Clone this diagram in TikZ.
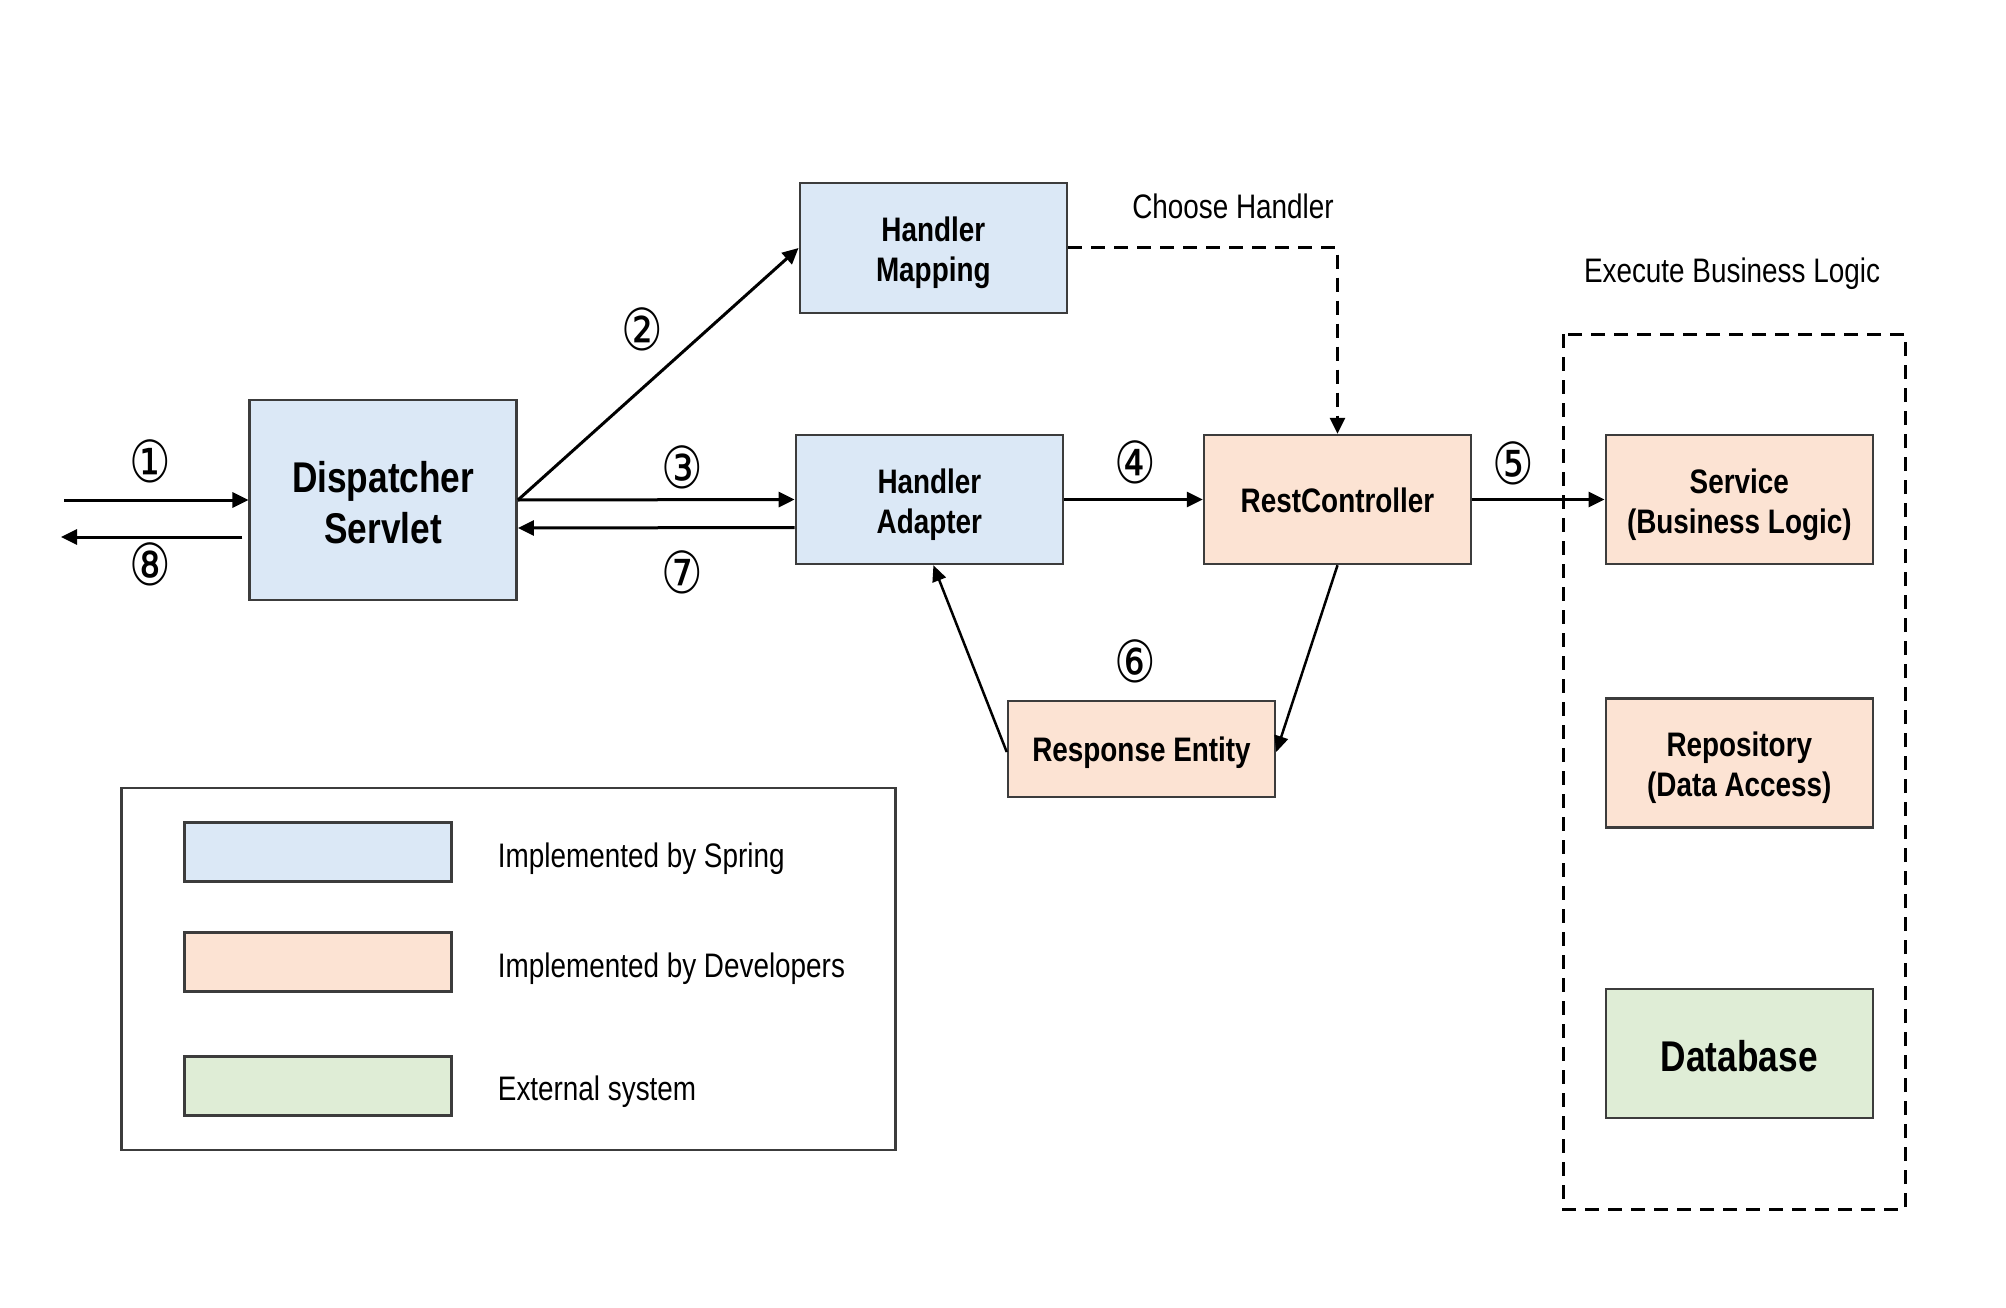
\documentclass[tikz,border=0pt]{standalone}
\usepackage{fontspec}
\setmainfont{Liberation Sans}[FakeStretch=0.82]
\newfontfamily\circfont{DejaVu Sans}[FakeStretch=0.8]
\usetikzlibrary{arrows.meta}
\definecolor{springblue}{RGB}{219,232,246}
\definecolor{devorange}{RGB}{252,227,211}
\definecolor{extgreen}{RGB}{223,237,214}
\definecolor{bordergray}{RGB}{60,60,60}
\newcommand\boxtxt{\fontsize{34pt}{40pt}\selectfont\bfseries}
\newcommand\bigtxt{\fontsize{43pt}{51pt}\selectfont\bfseries}
\newcommand\plaintxt{\fontsize{34pt}{40pt}\selectfont}
\newcommand\numtxt{\fontsize{58pt}{60pt}\selectfont\circfont}
\newcommand\lift[1]{\rule{0pt}{#1}}
\tikzset{
  compbox/.style={draw=bordergray, line width=2.5pt, inner sep=0pt, align=center,
    minimum width=267pt, minimum height=129pt, font=\boxtxt},
  spring/.style={compbox, fill=springblue},
  dev/.style={compbox, fill=devorange},
  ext/.style={compbox, fill=extgreen},
  arr/.style={line width=3pt, -{Triangle[length=16pt,width=15pt]}},
  dasharr/.style={line width=3pt, dash pattern=on 14pt off 9pt, -{Triangle[length=16pt,width=15pt]}},
  numlbl/.style={inner sep=0pt, font=\numtxt},
  lbl/.style={inner sep=0pt, font=\plaintxt},
  swatch/.style={draw=bordergray, line width=2.5pt, minimum width=267pt, minimum height=59pt, inner sep=0pt}
}
\begin{document}
\begin{tikzpicture}[x=1pt,y=-1pt]
\useasboundingbox[fill=white] (0,0) rectangle (2006,1308);

% main components
\node[spring, minimum height=200pt, font=\bigtxt] (DS) at (383.2,500) {\lift{36pt}Dispatcher\\Servlet};
\node[spring, minimum height=130pt] (HM) at (933.3,248) {\lift{34.5pt}Handler\\Mapping};
\node[spring] (HA) at (929.4,499.5) {\lift{34.5pt}Handler\\Adapter};
\node[dev] (RC) at (1337.5,499.5) {\lift{26.5pt}RestController};
\node[dev, minimum height=96pt] (RE) at (1141.5,749) {\lift{33pt}Response Entity};
\node[dev] (SV) at (1739.3,499.5) {\lift{34.5pt}Service\\(Business Logic)};
\node[dev] (RP) at (1739.3,763) {\lift{34.5pt}Repository\\(Data Access)};
\node[ext, font=\bigtxt] (DB) at (1739.3,1053.5) {\lift{36pt}Database};

% dashed group
\draw[line width=3pt, dash pattern=on 14pt off 9pt] (1563,334) rectangle (1905,1209);
\node[lbl] (ebl) at (1732,274) {Execute Business Logic};
\node[lbl] (ch) at (1233,206) {Choose Handler};

% free ends
\coordinate (in1) at (64,500);
\coordinate (out8) at (61,537);

% connectors
\draw[arr] (in1) -- (in1 -| DS.west);
\draw[arr] ([xshift=-6pt]DS.west |- out8) -- (out8);
\draw[arr] (DS.east) -- (HM.west);
\draw[arr] (DS.east) -- (HA.west);
\draw[arr] ([yshift=-28pt]HA.west) -- ([yshift=-28pt]DS.east);
\draw[arr] (HA.east) -- (RC.west);
\draw[arr] (RC.east) -- (SV.west);
\draw[dasharr] (HM.east) -- (HM.east -| RC.north) -- (RC.north);
\draw[line width=2.5pt, -{Triangle[length=16pt,width=14pt]}] (RC.south) -- ([yshift=-3pt]RE.east);
\draw[line width=2.5pt, -{Triangle[length=16pt,width=14pt]}] ([yshift=-3pt]RE.west) -- ([xshift=4pt]HA.south);

% step numbers
\node[numlbl] (n1) at (150,461) {①};
\node[numlbl] (n8) at (150,564) {⑧};
\node[numlbl] (n2) at (642,329) {②};
\node[numlbl] (n3) at (682,467) {③};
\node[numlbl] (n7) at (682,572) {⑦};
\node[numlbl] (n4) at (1135,462) {④};
\node[numlbl] (n5) at (1513,463) {⑤};
\node[numlbl] (n6) at (1135,661) {⑥};

% legend
\draw[line width=2.5pt, draw=bordergray] (121.5,788) rectangle (895.5,1150);
\node[swatch, fill=springblue] (lg1) at (317.8,852) {};
\node[swatch, fill=devorange] (lg2) at (317.8,962) {};
\node[swatch, fill=extgreen] (lg3) at (317.8,1086) {};
\node[lbl, anchor=west] (lt1) at (497.7,858.5) {Implemented by Spring};
\node[lbl, anchor=west] (lt2) at (497.7,968.5) {Implemented by Developers};
\node[lbl, anchor=west] (lt3) at (497.7,1091.5) {External system};
\end{tikzpicture}
\end{document}
